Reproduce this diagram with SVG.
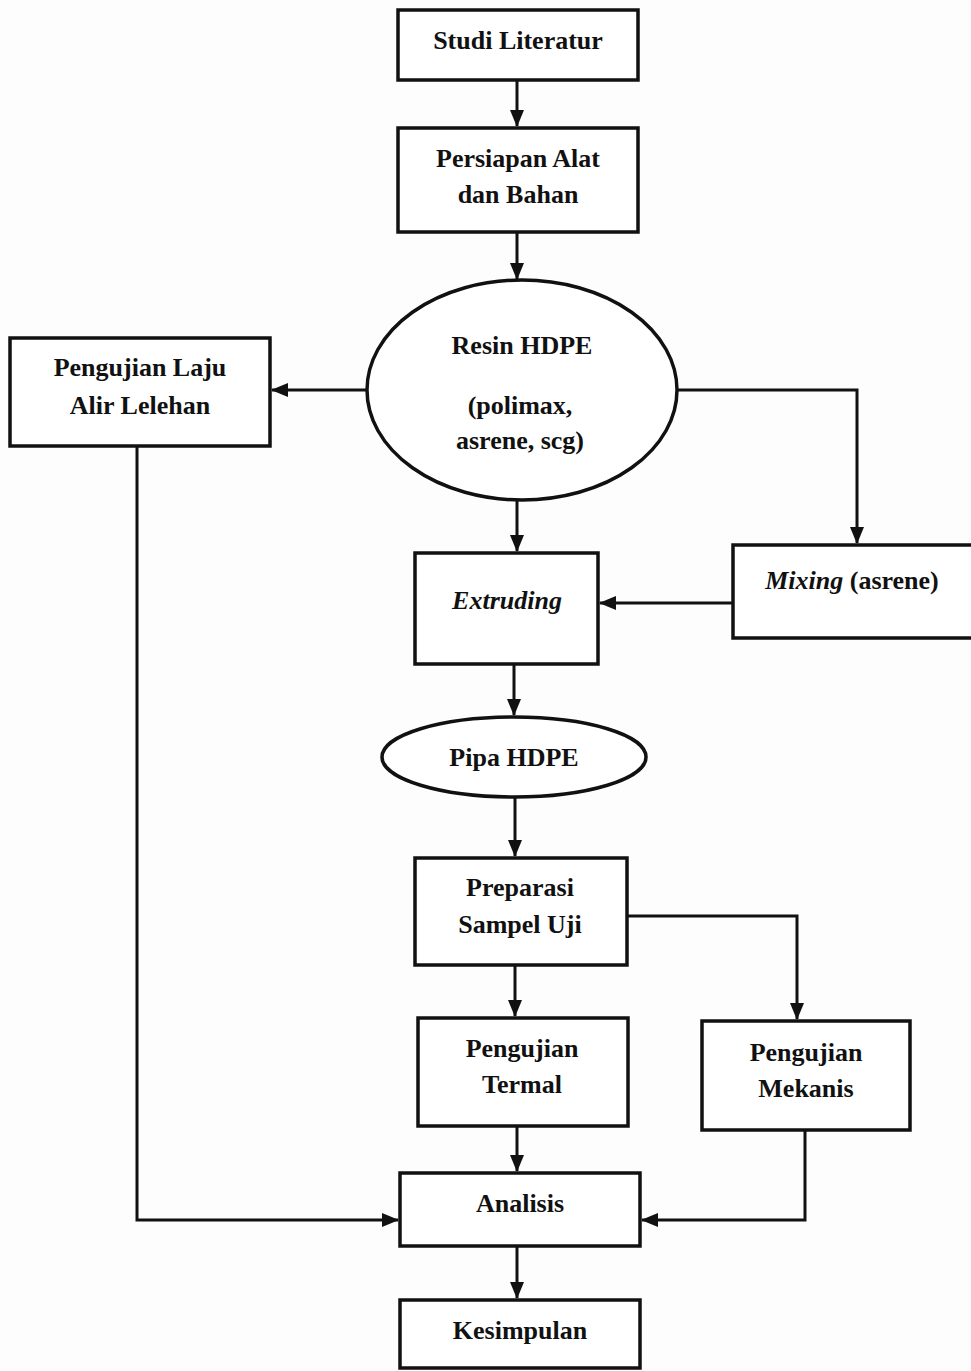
<svg xmlns="http://www.w3.org/2000/svg" width="971" height="1371" viewBox="0 0 971 1371">
<defs>
<style>
.box{fill:#fff;stroke:#111;stroke-width:3.5}
.t{font-family:"Liberation Serif","Times New Roman",serif;font-size:26px;font-weight:bold;fill:#111;text-anchor:middle}
.c{fill:none;stroke:#111;stroke-width:3}
</style>
<marker id="ah" markerWidth="18" markerHeight="16" refX="16" refY="8" orient="auto" markerUnits="userSpaceOnUse">
<path d="M0,1 L17,8 L0,15 Z" fill="#111"/>
</marker>
</defs>
<rect width="971" height="1371" fill="#fdfdfd"/>
<g id="connectors">
<line class="c" x1="517" y1="80" x2="517" y2="126" marker-end="url(#ah)"/>
<line class="c" x1="517" y1="232" x2="517" y2="279" marker-end="url(#ah)"/>
<line class="c" x1="368" y1="390" x2="272" y2="390" marker-end="url(#ah)"/>
<polyline class="c" points="677,390 857,390 857,543" marker-end="url(#ah)"/>
<line class="c" x1="517" y1="500" x2="517" y2="551" marker-end="url(#ah)"/>
<line class="c" x1="733" y1="603" x2="600" y2="603" marker-end="url(#ah)"/>
<line class="c" x1="514" y1="664" x2="514" y2="715" marker-end="url(#ah)"/>
<line class="c" x1="515" y1="797" x2="515" y2="856" marker-end="url(#ah)"/>
<polyline class="c" points="627,916 797,916 797,1019" marker-end="url(#ah)"/>
<line class="c" x1="515" y1="965" x2="515" y2="1016" marker-end="url(#ah)"/>
<line class="c" x1="517" y1="1126" x2="517" y2="1171" marker-end="url(#ah)"/>
<polyline class="c" points="137,446 137,1220 398,1220" marker-end="url(#ah)"/>
<polyline class="c" points="805,1130 805,1220 642,1220" marker-end="url(#ah)"/>
<line class="c" x1="517" y1="1246" x2="517" y2="1298" marker-end="url(#ah)"/>
</g>
<g id="studi">
<rect class="box" x="398" y="10" width="240" height="70"/>
<text class="t" x="518" y="49">Studi Literatur</text>
</g>
<g id="persiapan">
<rect class="box" x="398" y="128" width="240" height="104"/>
<text class="t" x="518" y="167">Persiapan Alat</text>
<text class="t" x="518" y="203">dan Bahan</text>
</g>
<g id="resin">
<ellipse class="box" cx="522" cy="390" rx="155" ry="110"/>
<text class="t" x="522" y="354">Resin HDPE</text>
<text class="t" x="520" y="414">(polimax,</text>
<text class="t" x="520" y="449">asrene, scg)</text>
</g>
<g id="laju">
<rect class="box" x="10" y="338" width="260" height="108"/>
<text class="t" x="140" y="376">Pengujian Laju</text>
<text class="t" x="140" y="414">Alir Lelehan</text>
</g>
<g id="mixing">
<rect class="box" x="733" y="545" width="250" height="93"/>
<text class="t" x="852" y="589"><tspan font-style="italic">Mixing</tspan> (asrene)</text>
</g>
<g id="extruding">
<rect class="box" x="415" y="553" width="183" height="111"/>
<text class="t" x="507" y="609" font-style="italic">Extruding</text>
</g>
<g id="pipa">
<ellipse class="box" cx="514" cy="757" rx="132" ry="40"/>
<text class="t" x="514" y="766">Pipa HDPE</text>
</g>
<g id="preparasi">
<rect class="box" x="415" y="858" width="212" height="107"/>
<text class="t" x="520" y="896">Preparasi</text>
<text class="t" x="520" y="933">Sampel Uji</text>
</g>
<g id="termal">
<rect class="box" x="418" y="1018" width="210" height="108"/>
<text class="t" x="522" y="1057">Pengujian</text>
<text class="t" x="522" y="1093">Termal</text>
</g>
<g id="mekanis">
<rect class="box" x="702" y="1021" width="208" height="109"/>
<text class="t" x="806" y="1061">Pengujian</text>
<text class="t" x="806" y="1097">Mekanis</text>
</g>
<g id="analisis">
<rect class="box" x="400" y="1173" width="240" height="73"/>
<text class="t" x="520" y="1212">Analisis</text>
</g>
<g id="kesimpulan">
<rect class="box" x="400" y="1300" width="240" height="68"/>
<text class="t" x="520" y="1339">Kesimpulan</text>
</g>
</svg>
